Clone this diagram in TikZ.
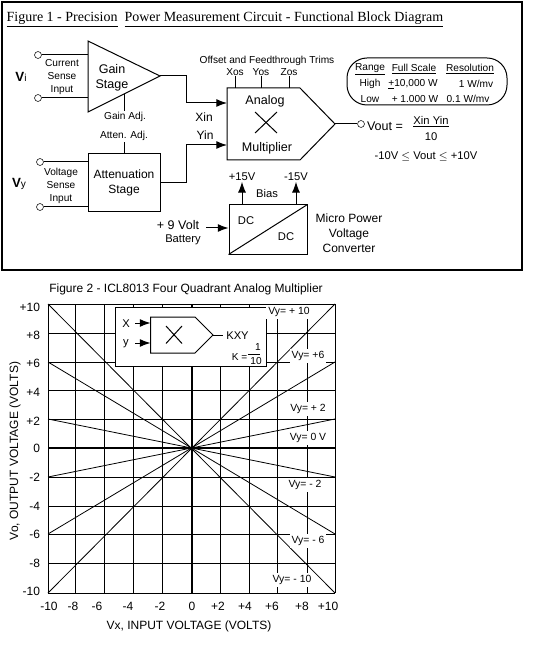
\documentclass[tikz,border=0pt]{standalone}
\usepackage{fontspec}
\usepackage{tikz}
\usetikzlibrary{arrows.meta}
\setmainfont{Liberation Sans}
\newfontfamily\titlefont{Liberation Serif}

\tikzset{
  tiny lbl/.style={inner sep=0.5pt,font=\fontsize{7.6}{9.8}\selectfont,align=center},
  small lbl/.style={inner sep=0.5pt,font=\fontsize{8.4}{11}\selectfont,align=center},
  mid lbl/.style={inner sep=0.5pt,font=\fontsize{9}{11.25}\selectfont,align=center},
  big lbl/.style={inner sep=0.5pt,font=\fontsize{9.4}{11.2}\selectfont,align=center},
  tick lbl/.style={inner sep=0.5pt,font=\fontsize{9}{10}\selectfont},
  curve lbl/.style={inner sep=1.5pt,fill=white,font=\fontsize{7.8}{9}\selectfont},
  terminal/.style={circle,draw,fill=white,inner sep=0pt,minimum size=5.2pt},
  blockbox/.style={rectangle,draw,inner sep=0pt,line width=0.75pt},
  sig/.style={line width=0.75pt,-{Latex[length=8pt,width=6pt]}},
  wire/.style={line width=0.75pt},
  gridline/.style={line width=0.75pt},
  transfer/.style={line width=0.6pt},
  axisline/.style={line width=1.6pt}
}

\begin{document}
\begin{tikzpicture}[x=0.75pt,y=0.75pt,yscale=-1,xscale=1]
\useasboundingbox (0,0) rectangle (537,648);

%Shape: outer frame of figure 1
\draw [line width=1.7pt] (2,2) rectangle (522,270);
% Text Node
\node (figonetitle) at (225,19) {\titlefont\fontsize{10.5}{12}\selectfont\underline{Figure 1 - Precision}\ \ \underline{Power Measurement Circuit - Functional Block Diagram}};

%Shape: gain stage
\coordinate (gaintop) at (88,41);
\coordinate (gainbot) at (88,112);
\coordinate (gainout) at (160,76);
\coordinate (gainslope) at (124,94);
\draw [wire] (gaintop) -- (gainout) -- (gainbot) -- cycle;
% Text Node
\node [big lbl] (gainlbl) at (112,78) {Gain\\Stage};
\node [tiny lbl] (gainadj) at (125,117) {Gain Adj.};
\draw [wire] (gainslope) -- (gainslope |- gainadj.north);

%Current input
\node [terminal] (iplus) at (38,55) {};
\node [terminal] (iminus) at (38,98) {};
\draw [wire] (iplus) -- (iplus -| gaintop);
\draw [wire] (iminus) -- (iminus -| gaintop);
\node [tiny lbl] (isense) at (62,77) {Current\\Sense\\Input};
\node [big lbl] (vilbl) at (21,77) {\fontsize{10}{11}\selectfont\textbf{V}\fontsize{7.6}{9}\selectfont i};

%Shape: attenuation stage
\node [blockbox,minimum width=54pt,minimum height=43.5pt,mid lbl] (atten) at (124,183) {Attenuation\\Stage};
\node [tiny lbl] (attenadj) at (124,136) {Atten. Adj.};
\draw [wire] (atten.north) -- (attenadj.south);

%Voltage input
\node [terminal] (vplus) at (40,162) {};
\node [terminal] (vminus) at (40,207) {};
\draw [wire] (vplus) -- (vplus -| atten.west);
\draw [wire] (vminus) -- (vminus -| atten.west);
\node [tiny lbl] (vsense) at (61,186) {Voltage\\Sense\\Input};
\node [big lbl] (vylbl) at (19,184) {\fontsize{10}{11}\selectfont\textbf{V}\fontsize{7.6}{9}\selectfont y};

%Shape: analog multiplier
\coordinate (multtl) at (227,88);
\coordinate (multtr) at (300,88);
\coordinate (multout) at (335,124);
\coordinate (multbr) at (300,160);
\coordinate (multbl) at (227,160);
\coordinate (xin) at (227,103);
\coordinate (yin) at (227,145);
\draw [wire] (multtl) -- (multtr) -- (multout) -- (multbr) -- (multbl) -- cycle;
\draw [wire] (255,112) -- (277,133) (277,112) -- (255,133);
\node [big lbl] (multtop) at (265,101) {Analog};
\node [big lbl] (multbot) at (267,148) {Multiplier};
\node [mid lbl] (xinlbl) at (204,117) {Xin};
\node [mid lbl] (yinlbl) at (205,135) {Yin};

%Curve Lines: block outputs to multiplier
\draw [sig] (gainout) -- (186,76) -- (186,103) -- (xin);
\draw [sig] (atten.east) -- (186,183) -- (186,145) -- (yin);

%Trims
\node [tiny lbl] (trimlbl) at (267,61) {Offset and Feedthrough Trims};
\node [tiny lbl] (xos) at (235,72) {Xos};
\node [tiny lbl] (yos) at (261,72) {Yos};
\node [tiny lbl] (zos) at (289,72) {Zos};
\draw [wire] (xos.south) -- (xos.south |- multtl);
\draw [wire] (yos.south) -- (yos.south |- multtl);
\draw [wire] (zos.south) -- (zos.south |- multtl);

%Output
\node [terminal] (voutterm) at (361,124) {};
\draw [wire] (multout) -- (voutterm);
\node [big lbl] (voutlbl) at (385,126) {Vout =};
\node [small lbl] (voutnum) at (431,122) {\underline{Xin Yin}};
\node [small lbl] (voutden) at (431,137) {10};
\node [small lbl] (voutrange) at (426,156) {-10V $\leq$ Vout $\leq$ +10V};

%Shape: range table
\draw [wire,rounded corners=15pt] (347,58) rectangle (507,105);
\node [tiny lbl] (rangehead) at (370,69) {\underline{Range}};
\node [tiny lbl] (scalehead) at (414,69) {\underline{Full Scale}};
\node [tiny lbl] (reshead) at (470,69) {\underline{Resolution}};
\node [tiny lbl] (rangehigh) at (370,84) {High};
\node [tiny lbl] (scalehigh) at (413,84) {\underline{+}10,000 W};
\node [tiny lbl] (reshigh) at (476,84) {1 W/mv};
\node [tiny lbl] (rangelow) at (370,99) {Low};
\node [tiny lbl] (scalelow) at (415,99) {+ 1.000 W};
\node [tiny lbl] (reslow) at (468,99) {0.1 W/mv};

%Shape: DC to DC converter
\node [blockbox,minimum width=58.5pt,minimum height=36.75pt] (dcbox) at (268,229.5) {};
\draw [wire] (dcbox.south west) -- (dcbox.north east);
\node [small lbl] (dcin) at (246,221) {DC};
\node [small lbl] (dcout) at (286,237) {DC};
\node [small lbl] (plusv) at (242,177) {+15V};
\node [small lbl] (minusv) at (296,177) {-15V};
\node [small lbl] (biaslbl) at (267,193) {Bias};
\draw [sig] (plusv.south |- dcbox.north) -- (plusv.south);
\draw [sig] (minusv.south |- dcbox.north) -- (minusv.south);
\node [big lbl] (battvolt) at (178,225) {+ 9 Volt};
\node [small lbl] (battlbl) at (183,240) {Battery};
\coordinate (battin) at (206,228);
\draw [sig] (battin) -- (battin -| dcbox.west);
\node [mid lbl] (micropwr) at (349,233) {Micro Power\\Voltage\\Converter};

% Text Node
\node (figtwotitle) at (186,289) {\fontsize{9}{10}\selectfont Figure 2 - ICL8013 Four Quadrant Analog Multiplier};

%Straight Lines: grid of figure 2
\draw [gridline] (48,304) -- (335,304);
\draw [gridline] (48,333) -- (335,333);
\draw [gridline] (48,362) -- (335,362);
\draw [gridline] (48,390) -- (335,390);
\draw [gridline] (48,419) -- (335,419);
\draw [gridline] (48,477) -- (335,477);
\draw [gridline] (48,506) -- (335,506);
\draw [gridline] (48,534) -- (335,534);
\draw [gridline] (48,563) -- (335,563);
\draw [gridline] (48,593) -- (335,593);
\draw [gridline] (48,304) -- (48,593);
\draw [gridline] (75.5,304) -- (75.5,593);
\draw [gridline] (104.5,304) -- (104.5,593);
\draw [gridline] (133,304) -- (133,593);
\draw [gridline] (162.5,304) -- (162.5,593);
\draw [gridline] (220.5,304) -- (220.5,593);
\draw [gridline] (249.5,304) -- (249.5,593);
\draw [gridline] (277.5,304) -- (277.5,593);
\draw [gridline] (307,304) -- (307,593);
\draw [gridline] (335,304) -- (335,593);
\draw [axisline] (48,448) -- (335,448);
\draw [axisline] (192,304) -- (192,593);

%Straight Lines: transfer lines
\draw [transfer] (48,304) -- (335,593);
\draw [transfer] (48,593) -- (335,304);
\draw [transfer] (48,362) -- (335,534);
\draw [transfer] (48,534) -- (335,362);
\draw [transfer] (48,419) -- (335,477);
\draw [transfer] (48,477) -- (335,419);

%Shape: inset multiplier
\node [blockbox,fill=white,minimum width=112.75pt,minimum height=44.25pt] (insetbox) at (191,336.5) {};
\coordinate (insettl) at (150.5,317);
\coordinate (insettr) at (195,317);
\coordinate (insetout) at (213,335);
\coordinate (insetbr) at (195,353);
\coordinate (insetbl) at (150.5,353);
\coordinate (insetxin) at (135,323);
\coordinate (insetyin) at (135,343);
\coordinate (insetxend) at (150.5,323);
\coordinate (insetyend) at (150.5,343);
\coordinate (insetkxyin) at (223,335);
\draw [wire] (insettl) -- (insettr) -- (insetout) -- (insetbr) -- (insetbl) -- cycle;
\draw [wire] (166,326) -- (182,343.5) (182,326) -- (166,343.5);
\node [small lbl] (insetx) at (126,324) {X};
\node [small lbl] (insety) at (126,344) {y};
\draw [sig] (insetxin) -- (insetxend);
\draw [sig] (insetyin) -- (insetyend);
\node [small lbl] (insetkxy) at (237.5,336) {KXY};
\draw [wire] (insetout) -- (insetkxyin);
\node [tiny lbl] (insetk) at (239.5,357) {K =};
\node [tiny lbl] (insetnum) at (258,347) {1};
\node [tiny lbl] (insetden) at (256,361) {10};
\draw [wire] (248,354) -- (260,354);

%Curve labels
\node [curve lbl] (vyten) at (289,312) {Vy= + 10};
\node [curve lbl] (vysix) at (308,356) {Vy= +6};
\node [curve lbl] (vytwo) at (308,409) {Vy= + 2};
\node [curve lbl] (vyzero) at (308,438) {Vy= 0 V};
\node [curve lbl] (vymtwo) at (305,485) {Vy= - 2};
\node [curve lbl] (vymsix) at (308,541) {Vy= - 6};
\node [curve lbl] (vymten) at (292,580) {Vy= - 10};

% Text Node
\node [tick lbl,anchor=east] (ypten) at (41,307) {+10};
\node [tick lbl,anchor=east] (yp8) at (41,335) {+8};
\node [tick lbl,anchor=east] (yp6) at (41,363) {+6};
\node [tick lbl,anchor=east] (yp4) at (41,392) {+4};
\node [tick lbl,anchor=east] (yp2) at (41,421) {+2};
\node [tick lbl,anchor=east] (yzero) at (41,448) {0};
\node [tick lbl,anchor=east] (ym2) at (41,477) {-2};
\node [tick lbl,anchor=east] (ym4) at (41,506) {-4};
\node [tick lbl,anchor=east] (ym6) at (41,534) {-6};
\node [tick lbl,anchor=east] (ym8) at (41,563) {-8};
\node [tick lbl,anchor=east] (ymten) at (41,591) {-10};
\node [tick lbl] (xmten) at (49,606) {-10};
\node [tick lbl] (xm8) at (73,606) {-8};
\node [tick lbl] (xm6) at (97,606) {-6};
\node [tick lbl] (xm4) at (128,606) {-4};
\node [tick lbl] (xm2) at (160,606) {-2};
\node [tick lbl] (xzero) at (192,606) {0};
\node [tick lbl] (xp2) at (218,606) {+2};
\node [tick lbl] (xp4) at (245,606) {+4};
\node [tick lbl] (xp6) at (272,606) {+6};
\node [tick lbl] (xp8) at (302,606) {+8};
\node [tick lbl] (xpten) at (328,606) {+10};
\node [tick lbl] (xaxislbl) at (189,626) {Vx, INPUT VOLTAGE (VOLTS)};
\node [tick lbl,rotate=90] (yaxislbl) at (15,451) {Vo, OUTPUT VOLTAGE (VOLTS)};

\end{tikzpicture}
\end{document}
